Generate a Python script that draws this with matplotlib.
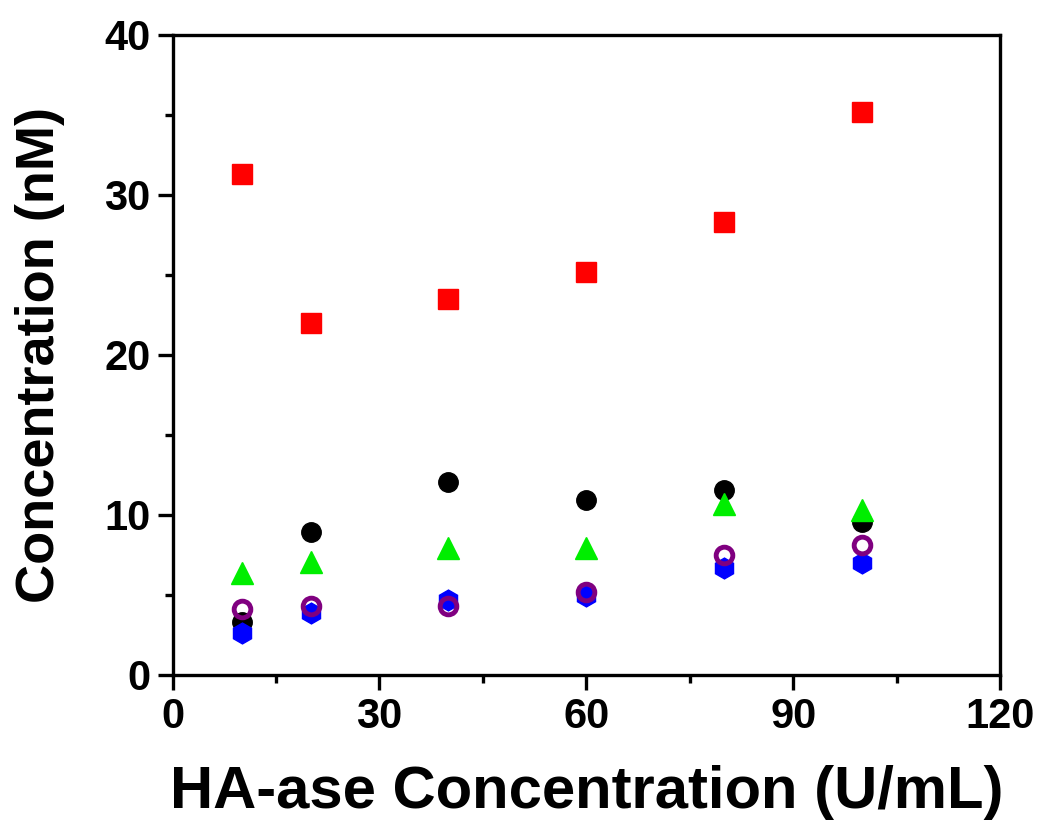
import matplotlib
matplotlib.use('Agg')
import matplotlib.pyplot as plt
from matplotlib.ticker import MultipleLocator

plt.rcParams['font.family'] = ['Liberation Sans', 'DejaVu Sans']
plt.rcParams['font.weight'] = 'bold'

# HA-ase concentration (U/mL)
x = [10, 20, 40, 60, 80, 100]

# measured concentrations (nM)
red_sq = [31.3, 22.0, 23.5, 25.2, 28.3, 35.2]
black_circ = [3.3, 8.9, 12.05, 10.9, 11.55, 9.55]
green_tri = [6.35, 7.05, 7.9, 7.9, 10.7, 10.3]
purple_open = [4.1, 4.3, 4.3, 5.2, 7.5, 8.1]
blue_hex = [2.6, 3.85, 4.7, 4.95, 6.7, 7.0]

fig = plt.figure(figsize=(10.4, 8.25), dpi=100)
ax = fig.add_axes([0.166, 0.182, 0.7955, 0.7756])

ms = 14
ax.plot(x, red_sq, 's', color='#ff0000', ms=ms, mec='#ff0000')
ax.plot(x, black_circ, 'o', color='black', ms=ms)
ax.plot(x, blue_hex, 'h', color='#0000ff', ms=ms + 1)
ax.plot(x, purple_open, 'o', mfc='none', mec='#800080', mew=3.5, ms=ms - 2)
ax.plot(x, green_tri, '^', color='#00ee00', ms=ms + 2)

ax.set_xlim(0, 120)
ax.set_ylim(0, 40)
ax.xaxis.set_major_locator(MultipleLocator(30))
ax.xaxis.set_minor_locator(MultipleLocator(15))
ax.yaxis.set_major_locator(MultipleLocator(10))
ax.yaxis.set_minor_locator(MultipleLocator(5))

for sp in ax.spines.values():
    sp.set_linewidth(2.4)
ax.tick_params(which='major', direction='out', length=11, width=2.4, labelsize=30, pad=5)
ax.tick_params(which='minor', direction='out', length=6, width=2.4)
for lab in ax.get_xticklabels() + ax.get_yticklabels():
    lab.set_fontweight('bold')

ax.set_xlabel('HA-ase Concentration (U/mL)', fontsize=43, fontweight='bold', labelpad=20)
ax.set_ylabel('Concentration (nM)', fontsize=39, fontweight='bold', labelpad=28)

fig.savefig('out.png', dpi=100)
